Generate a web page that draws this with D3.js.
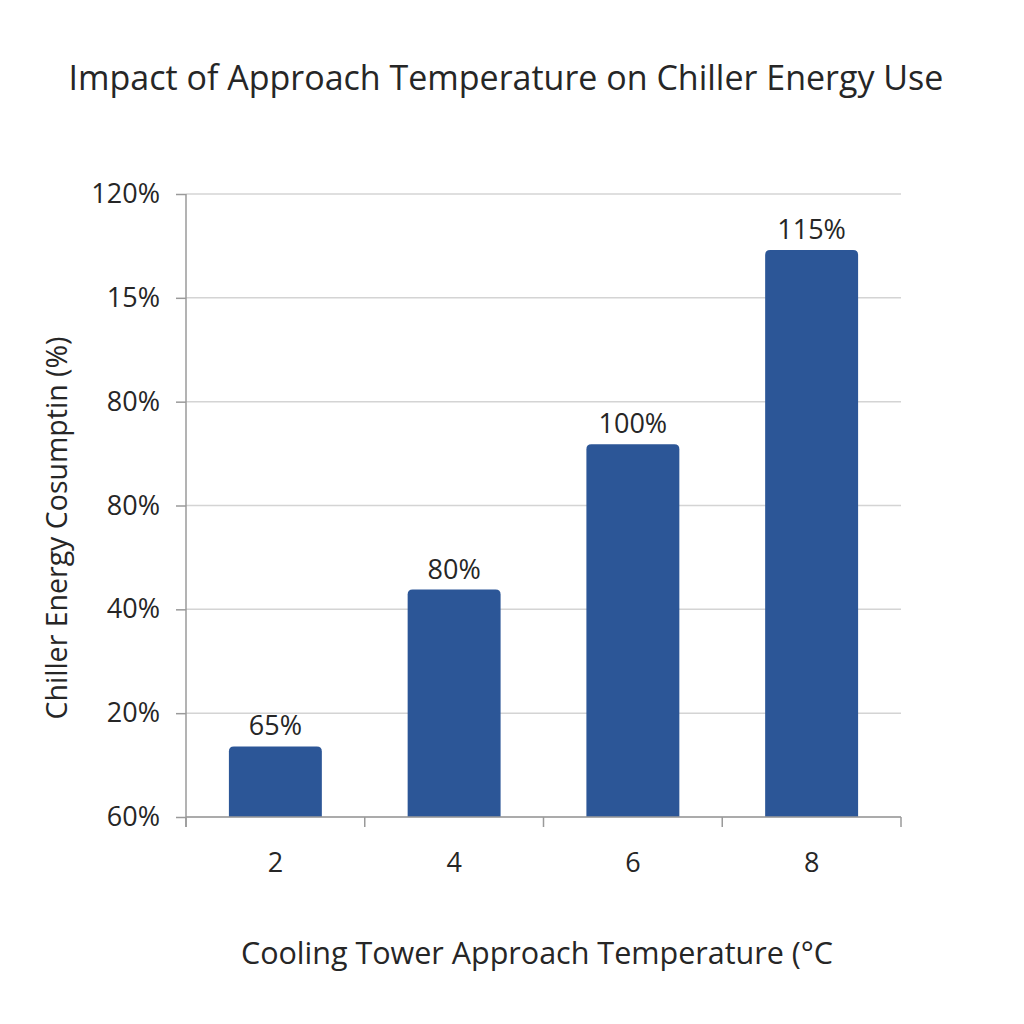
<!DOCTYPE html>
<html>
<head>
<meta charset="utf-8">
<script src="https://cdn.jsdelivr.net/npm/d3@7"></script>
<style>
  body { margin: 0; background: #fff; }
  text { font-family: "Open Sans", "Noto Sans", sans-serif; fill: #262626; }
</style>
</head>
<body>
<svg id="chart" width="1024" height="1024"></svg>
<script>

// Approach temperature categories (deg C)
var categories = ['2', '4', '6', '8'];

// Bar heights (on the axis scale)
var values = [66.8, 81.9, 95.9, 114.6];

// Labels printed above the bars
var bar_labels = ['65%', '80%', '100%', '115%'];

// Y tick positions and the labels printed at them
var tick_values = [60, 70, 80, 90, 100, 110, 120];
var tick_labels = ['60%', '20%', '40%', '80%', '80%', '15%', '120%'];

var margin = { top: 194, right: 123, bottom: 207, left: 186 },
    width = 1024 - margin.left - margin.right,
    height = 1024 - margin.top - margin.bottom;

var svg = d3.select('#chart');

var g = svg.append('g')
    .attr('transform', 'translate(' + margin.left + ',' + margin.top + ')');

var x = d3.scaleBand()
    .domain(categories)
    .range([0, width])
    .paddingInner(0.48)
    .paddingOuter(0.24);

var y = d3.scaleLinear()
    .domain([60, 120])
    .range([height, 0]);

// Gridlines
g.append('g')
    .selectAll('line')
    .data(tick_values)
    .enter()
    .append('line')
    .attr('x1', 0)
    .attr('x2', width)
    .attr('y1', function (d) { return y(d); })
    .attr('y2', function (d) { return y(d); })
    .attr('stroke', '#d4d4d4')
    .attr('stroke-width', 1.5);

// Bars, rounded on top only
function bar_path (d, i) {
    var x0 = x(categories[i]),
        w = x.bandwidth(),
        y0 = y(d),
        y1 = y(60),
        r = 5;
    return 'M' + x0 + ',' + y1 +
        'V' + (y0 + r) +
        'Q' + x0 + ',' + y0 + ' ' + (x0 + r) + ',' + y0 +
        'H' + (x0 + w - r) +
        'Q' + (x0 + w) + ',' + y0 + ' ' + (x0 + w) + ',' + (y0 + r) +
        'V' + y1 + 'Z';
}

g.append('g')
    .selectAll('path')
    .data(values)
    .enter()
    .append('path')
    .attr('d', bar_path)
    .attr('fill', '#2c5697');

// Value labels
g.append('g')
    .selectAll('text')
    .data(values)
    .enter()
    .append('text')
    .attr('x', function (d, i) { return x(categories[i]) + x.bandwidth() / 2; })
    .attr('y', function (d) { return y(d) - 11; })
    .attr('text-anchor', 'middle')
    .style('font-size', '27px')
    .text(function (d, i) { return bar_labels[i]; });

// Y axis
var y_axis = d3.axisLeft(y)
    .tickValues(tick_values)
    .tickSize(10)
    .tickPadding(16)
    .tickFormat(function (d, i) { return tick_labels[i]; });

var yg = g.append('g').call(y_axis);
yg.select('.domain').attr('stroke', '#9a9a9a').attr('stroke-width', 1.5)
    .attr('d', 'M0,0V' + (height + 10));
yg.selectAll('.tick line').attr('stroke', '#9a9a9a').attr('stroke-width', 1.5);
yg.selectAll('.tick text')
    .style('font-size', '27px')
    .style('font-family', '"Open Sans", sans-serif')
    .attr('fill', '#262626');

// X axis, ticks at band edges
var edges = categories.map(function (c) { return x(c) - x.step() * x.paddingInner() / 2; });
edges.push(width);
edges[0] = 0;

var xg = g.append('g').attr('transform', 'translate(0,' + height + ')');
xg.append('line')
    .attr('x1', 0).attr('x2', width)
    .attr('stroke', '#9a9a9a').attr('stroke-width', 1.5);
xg.selectAll('line.tick')
    .data(edges)
    .enter()
    .append('line')
    .attr('class', 'tick')
    .attr('x1', function (d) { return d; })
    .attr('x2', function (d) { return d; })
    .attr('y1', 0).attr('y2', 10)
    .attr('stroke', '#9a9a9a').attr('stroke-width', 1.5);
xg.selectAll('text')
    .data(categories)
    .enter()
    .append('text')
    .attr('x', function (d) { return x(d) + x.bandwidth() / 2; })
    .attr('y', 55)
    .attr('text-anchor', 'middle')
    .style('font-size', '27px')
    .text(function (d) { return d; });

// Titles
svg.append('text')
    .attr('x', 506)
    .attr('y', 90)
    .attr('text-anchor', 'middle')
    .style('font-size', '34px')
    .text('Impact of Approach Temperature on Chiller Energy Use');

svg.append('text')
    .attr('x', 537)
    .attr('y', 964)
    .attr('text-anchor', 'middle')
    .style('font-size', '30.5px')
    .text('Cooling Tower Approach Temperature (°C');

svg.append('text')
    .attr('transform', 'translate(67,528) rotate(-90)')
    .attr('text-anchor', 'middle')
    .style('font-size', '28.5px')
    .text('Chiller Energy Cosumptin (%)');

</script>
</body>
</html>
